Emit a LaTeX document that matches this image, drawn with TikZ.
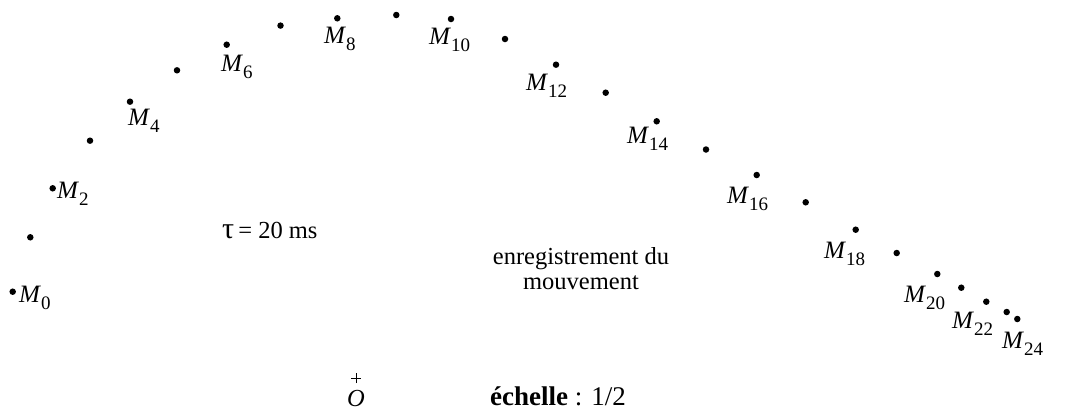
\documentclass[tikz,border=0pt]{standalone}
\usepackage{fontspec}
\setmainfont{Liberation Serif}
\begin{document}
\begin{tikzpicture}[x=1pt,y=-1pt,
  pt/.style={circle,fill=black,inner sep=0pt,minimum size=6.5pt},
  lab/.style={anchor=base west,inner sep=0pt,font=\fontsize{25}{29}\selectfont},
  txt/.style={inner sep=0pt,font=\fontsize{24.5}{25}\selectfont},
  crossmark/.style={line width=0.8pt}]
\newcommand{\Mlab}[1]{\textit{M}\raisebox{-0.28em}{\fontsize{19}{20}\selectfont #1}}
\useasboundingbox (0,0) rectangle (1072,410);
% points
\node[pt] (p0) at (12.7,291.7) {};
\node[pt] (p1) at (30.3,237.3) {};
\node[pt] (p2) at (52.7,188.3) {};
\node[pt] (p3) at (90,140.7) {};
\node[pt] (p4) at (130,101.7) {};
\node[pt] (p5) at (177,70.3) {};
\node[pt] (p6) at (226.7,44.7) {};
\node[pt] (p7) at (280.5,25.6) {};
\node[pt] (p8) at (337.3,18.3) {};
\node[pt] (p9) at (396.3,15) {};
\node[pt] (p10) at (451,19) {};
\node[pt] (p11) at (505,39) {};
\node[pt] (p12) at (556,64.7) {};
\node[pt] (p13) at (605.7,92.7) {};
\node[pt] (p14) at (656.7,121.3) {};
\node[pt] (p15) at (706,149.5) {};
\node[pt] (p16) at (756.7,175) {};
\node[pt] (p17) at (805.7,202.3) {};
\node[pt] (p18) at (855.7,229.7) {};
\node[pt] (p19) at (896.7,253) {};
\node[pt] (p20) at (937.3,274) {};
\node[pt] (p21) at (961.3,287.7) {};
\node[pt] (p22) at (986.3,301.7) {};
\node[pt] (p23) at (1006.7,312) {};
\node[pt] (p24) at (1017.3,319) {};
% labels
\node[lab] (l0) at (19,302) {\Mlab{0}};
\node[lab] (l2) at (57,198) {\Mlab{2}};
\node[lab] (l4) at (128,125) {\Mlab{4}};
\node[lab] (l6) at (221,71) {\Mlab{6}};
\node[lab] (l8) at (324,43) {\Mlab{8}};
\node[lab] (l10) at (429,44) {\Mlab{10}};
\node[lab] (l12) at (526,90) {\Mlab{12}};
\node[lab] (l14) at (627,143) {\Mlab{14}};
\node[lab] (l16) at (727,203) {\Mlab{16}};
\node[lab] (l18) at (824,258) {\Mlab{18}};
\node[lab] (l20) at (904,302) {\Mlab{20}};
\node[lab] (l22) at (952,328) {\Mlab{22}};
\node[lab] (l24) at (1002,348) {\Mlab{24}};
% texts
\node[txt,anchor=base west] (tau) at (222,238) {{\fontsize{30}{30}\selectfont τ}\,= 20 ms};
\node[txt,anchor=base,align=center] (enr) at (581,289) {enregistrement du\\mouvement};
\node[inner sep=0pt,anchor=base west,font=\fontsize{27}{27}\selectfont] (ech) at (490,405) {\textbf{échelle} : 1/2};
\node[txt,anchor=base] (O) at (356,406) {\textit{O}};
% origin cross
\coordinate (plus) at (356,378);
\draw[crossmark] ([xshift=-5pt]plus) -- ([xshift=5pt]plus)
                 ([yshift=-5pt]plus) -- ([yshift=5pt]plus);
\end{tikzpicture}
\end{document}
